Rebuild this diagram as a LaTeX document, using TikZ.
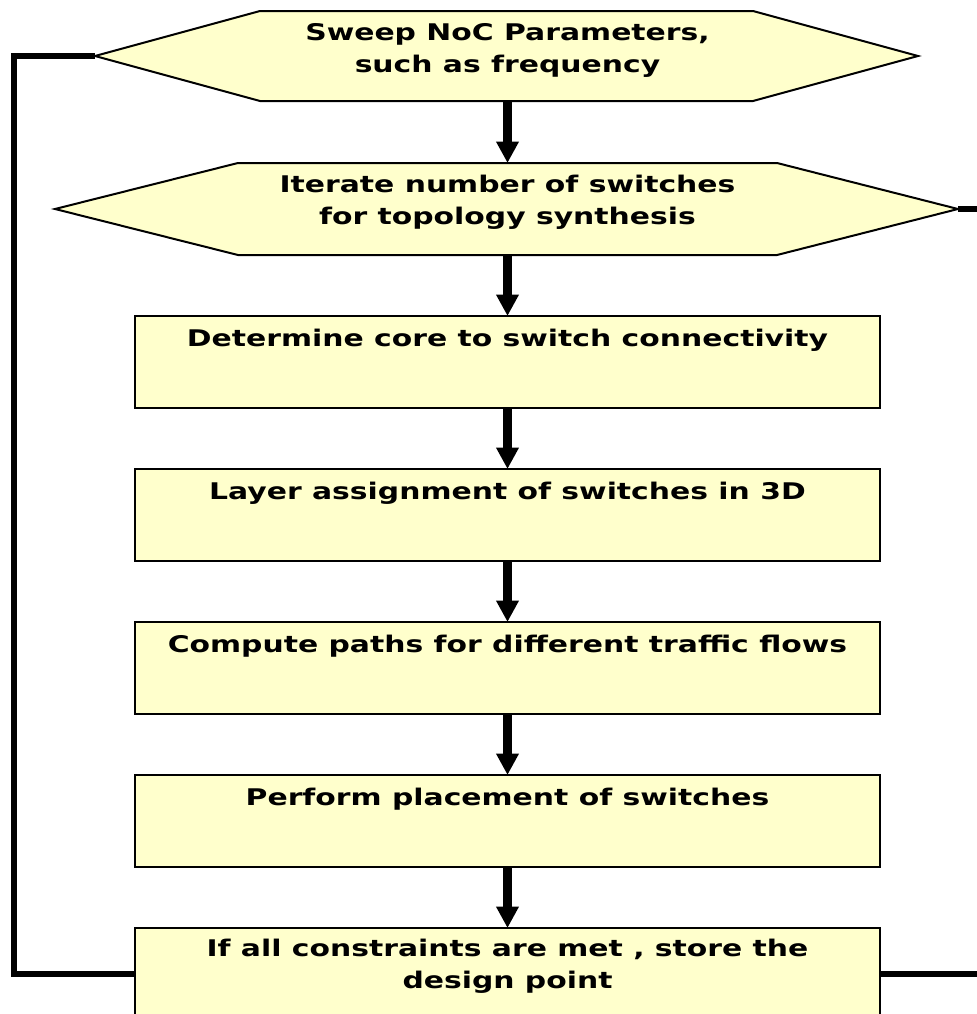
\documentclass[tikz,border=0pt]{standalone}
\usepackage{fontspec}
\setmainfont{DejaVu Sans}[FakeStretch=1.3]
\usetikzlibrary{arrows.meta}
\definecolor{boxfill}{HTML}{FFFFCC}
\newcommand\tb[1]{\parbox[t]{710pt}{\centering #1}}
\begin{document}
\begin{tikzpicture}[x=0.75pt,y=-0.75pt,
  hexshape/.style={draw=black, line width=1.5pt, fill=boxfill, line join=miter},
  box/.style={draw=black, line width=1.5pt, fill=boxfill, rectangle, inner sep=0pt,
    outer sep=0pt, minimum width=558.75pt, minimum height=69pt, anchor=north west},
  txt/.style={anchor=base, inner sep=0pt, font=\bfseries\fontsize{17.2pt}{24pt}\selectfont},
  arr/.style={line width=6.75pt, -{Triangle[length=16pt,width=16pt]}},
  link/.style={line width=4.5pt, line join=miter}]
\useasboundingbox (0,0) rectangle (977,1014);
% hexagon 1
\coordinate (h1w) at (95,56);
\coordinate (h1e) at (918,56);
\coordinate (h1s) at (507.5,101);
\draw[hexshape] (h1w) -- (260,11) -- (753,11) -- (h1e) -- (753,101) -- (260,101) -- cycle;
% hexagon 2
\coordinate (h2w) at (55,209);
\coordinate (h2e) at (958,209);
\coordinate (h2n) at (507.5,163);
\coordinate (h2s) at (507.5,255);
\draw[hexshape] (h2w) -- (238,163) -- (777,163) -- (h2e) -- (777,255) -- (238,255) -- cycle;
% boxes
\node[box] (b1) at (135,316) {};
\node[box] (b2) at (135,469) {};
\node[box] (b3) at (135,622) {};
\node[box] (b4) at (135,775) {};
\node[box] (b5) at (135,928) {};
% texts
\node[txt] (t0) at (507.5,40) {\tb{Sweep NoC Parameters,\\such as frequency}};
\node[txt] (t1) at (507.5,192.5) {\tb{Iterate number of switches\\for topology synthesis}};
\node[txt] (t2) at (507.5,346) {\tb{Determine core to switch connectivity}};
\node[txt] (t3) at (507.5,499) {\tb{Layer assignment of switches in 3D}};
\node[txt] (t4) at (507.5,652) {\tb{Compute paths for different traffic flows}};
\node[txt] (t5) at (507.5,805) {\tb{Perform placement of switches}};
\node[txt] (t6) at (507.5,956) {\tb{If all constraints are met , store the\\design point}};
% arrows
\draw[arr] (h1s) -- (h2n);
\draw[arr] (h2s) -- (b1.north);
\draw[arr] (b1.south) -- (b2.north);
\draw[arr] (b2.south) -- (b3.north);
\draw[arr] (b3.south) -- (b4.north);
\draw[arr] (b4.south) -- (b5.north);
% loop-back connectors
\coordinate (lt) at (14,56);
\coordinate (re) at (982,972);
\draw[link] (b5.west) -- (b5.west -| lt) -- (lt) -- (h1w);
\draw[link] (b5.east) -- (b5.east -| re);
\draw[link] (h2e) -- (h2e -| re);
\end{tikzpicture}
\end{document}
